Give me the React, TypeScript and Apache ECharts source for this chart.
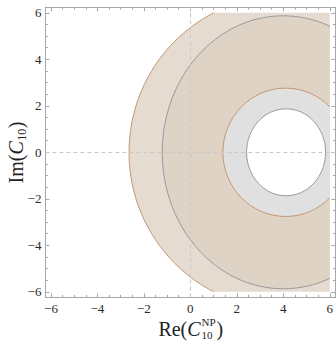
import React, { useEffect, useRef } from 'react';
import * as echarts from 'echarts';

// ---- data ----
const majorTicks = [-6, -4, -2, 0, 2, 4, 6];
const minorTicks = [-5.5, -5, -4.5, -3.5, -3, -2.5, -1.5, -1, -0.5, 0.5, 1, 1.5, 2.5, 3, 3.5, 4.5, 5, 5.5];
const axisMin = -6.24;
const axisMax = 6.24;
const plotRangeX = [-6, 6];
const plotRangeY = [-6, 6];
// contours: outer orange, outer gray, inner orange, inner gray
const contourCenterX = [4.0, 4.0, 4.1, 4.12];
const contourCenterY = [0, 0, 0, 0];
const contourRadiusX = [6.64, 5.21, 2.7, 1.7];
const contourRadiusY = [6.72, 5.87, 2.76, 1.87];
const referenceLinesX = [0];
const referenceLinesY = [0];

// ---- styles ----
const FILL = ['#e5dbd0', '#dfd3c6', '#e0e0e0', '#ffffff'];
const STROKE = ['#c39772', '#9a9a9a', '#c39772', '#9a9a9a'];
const FRAME = '#a8a8a8';
const SERIF = '"Liberation Serif", "DejaVu Serif", serif';

function mkAxis(kind: 'x' | 'y', position: string, major: boolean, labels: boolean) {
  return {
    type: 'value',
    gridIndex: 0,
    position,
    min: axisMin,
    max: axisMax,
    axisLine: { show: true, onZero: false, lineStyle: { color: FRAME, width: 1 } },
    splitLine: { show: false },
    minorTick: { show: false },
    axisTick: {
      show: true,
      inside: true,
      length: major ? 4 : 2.5,
      customValues: major ? majorTicks : minorTicks,
      lineStyle: { color: FRAME, width: 1 },
    },
    axisLabel: {
      show: labels,
      customValues: majorTicks,
      margin: kind === 'x' ? 5 : 4,
      color: '#2a2a2a',
      fontFamily: SERIF,
      fontSize: 13,
      formatter: (v: number) => String(v).replace('-', '\u2212'),
    },
  };
}

function txt(text: string, x: number, baseline: number, size: number, italic = false) {
  return {
    type: 'text',
    style: {
      text,
      x,
      y: baseline - 0.3375 * size,
      font: `${italic ? 'italic ' : ''}${size}px ${SERIF}`,
      fill: '#222',
      textAlign: 'left',
      textVerticalAlign: 'middle',
    },
  };
}

export default function App() {
  const ref = useRef<HTMLDivElement>(null);
  useEffect(() => {
    if (!ref.current) return;
    const chart = echarts.init(ref.current, undefined, { renderer: 'svg' });
    const data = contourCenterX.map((cx, i) => [cx, contourCenterY[i], contourRadiusX[i], contourRadiusY[i]]);
    chart.setOption({
      animation: false,
      grid: { left: 45.4, top: 7.2, width: 291.2, height: 290.2, containLabel: false },
      xAxis: [
        mkAxis('x', 'bottom', true, true),
        mkAxis('x', 'bottom', false, false),
        mkAxis('x', 'top', true, false),
        mkAxis('x', 'top', false, false),
      ],
      yAxis: [
        mkAxis('y', 'left', true, true),
        mkAxis('y', 'left', false, false),
        mkAxis('y', 'right', true, false),
        mkAxis('y', 'right', false, false),
      ],
      series: [
        {
          type: 'custom',
          coordinateSystem: 'cartesian2d',
          xAxisIndex: 0,
          yAxisIndex: 0,
          clip: false,
          silent: true,
          data,
          encode: { x: 0, y: 1 },
          renderItem: (params: any, api: any) => {
            const i = params.dataIndex;
            const c = api.coord([api.value(0), api.value(1)]);
            const s = api.size([api.value(2), api.value(3)]);
            const tl = api.coord([plotRangeX[0], plotRangeY[1]]);
            const br = api.coord([plotRangeX[1], plotRangeY[0]]);
            return {
              type: 'group',
              clipPath: {
                type: 'rect',
                shape: { x: tl[0], y: tl[1], width: br[0] - tl[0], height: br[1] - tl[1] },
              },
              children: [
                {
                  type: 'ellipse',
                  shape: { cx: c[0], cy: c[1], rx: s[0], ry: s[1] },
                  style: { fill: FILL[i], stroke: STROKE[i], lineWidth: 1 },
                },
              ],
            };
          },
          markLine: {
            silent: true,
            symbol: ['none', 'none'],
            label: { show: false },
            lineStyle: { color: '#c8c8c8', type: [4, 3], width: 1 },
            data: [
              ...referenceLinesX.map((v) => ({ xAxis: v })),
              ...referenceLinesY.map((v) => ({ yAxis: v })),
            ],
          },
        },
      ],
      graphic: [
        {
          type: 'group',
          children: [
            txt('Re(', 158.4, 336, 20),
            txt('C', 187.3, 336, 20, true),
            txt('NP', 201.6, 325.5, 11),
            txt('10', 201.6, 339, 11),
            txt(')', 216.4, 336, 20),
          ],
        },
        {
          type: 'group',
          x: 23,
          y: 183.5,
          rotation: Math.PI / 2,
          children: [
            txt('Im(', 0, 0, 20),
            txt('C', 28.9, 0, 20, true),
            txt('10', 42.7, 3, 12),
            txt(')', 55.2, 0, 20),
          ],
        },
      ],
    });
    return () => chart.dispose();
  }, []);
  return <div ref={ref} style={{ position: 'absolute', left: 0, top: 0, width: 336, height: 342 }} />;
}
